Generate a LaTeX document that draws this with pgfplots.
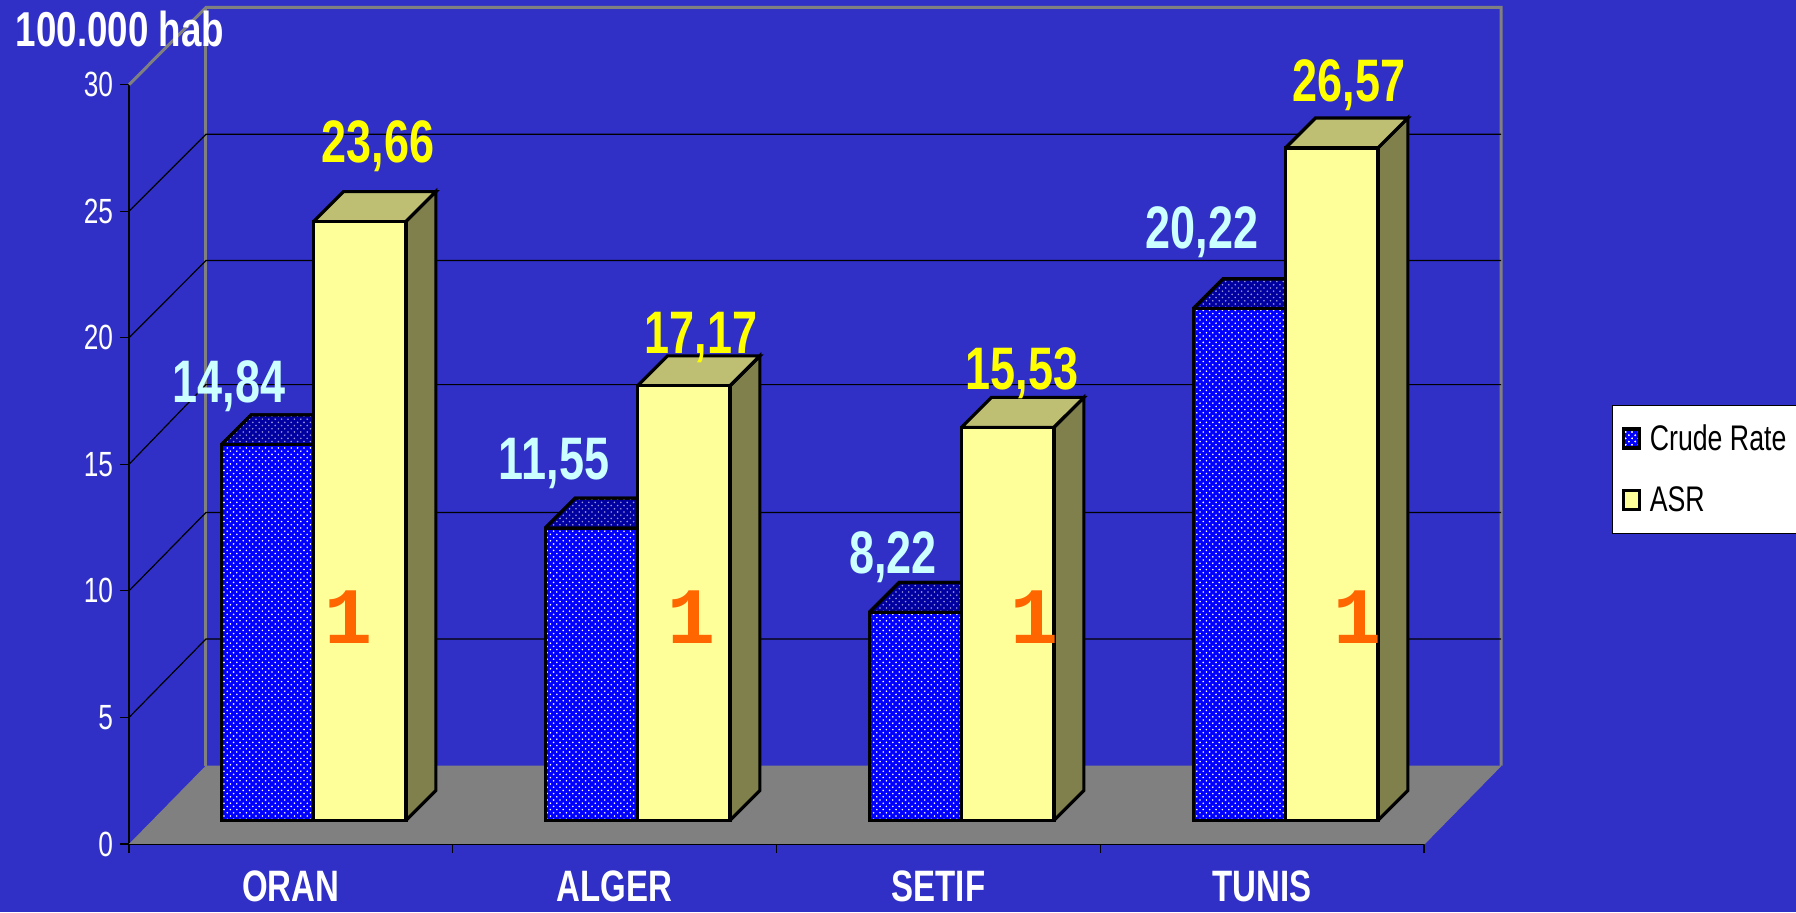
\documentclass[border=0pt]{standalone}
\usepackage{fontspec}
\usepackage{pgfplots}
\pgfplotsset{compat=1.18}
\usetikzlibrary{patterns}
\setmainfont[FakeStretch=0.75]{Liberation Sans}
\newfontfamily\onefont{Liberation Mono}

\definecolor{bg}{HTML}{3030C6}
\definecolor{wall}{HTML}{808080}
\definecolor{crude}{HTML}{0000FF}
\definecolor{crudetop}{HTML}{0000A0}
\definecolor{asr}{HTML}{FFFF99}
\definecolor{asrtop}{HTML}{BFBF73}
\definecolor{asrside}{HTML}{80804C}
\definecolor{crudelab}{HTML}{CCFFFF}
\definecolor{asrlab}{HTML}{FFFF00}
\definecolor{one}{HTML}{FF6600}

% dots on the blue bars
\pgfdeclarepatternformonly{bardots}{\pgfqpoint{-0.6bp}{-0.6bp}}{\pgfqpoint{3.8bp}{3.8bp}}{\pgfqpoint{3.2bp}{3.2bp}}{
  \pgfpathcircle{\pgfqpoint{0bp}{0bp}}{0.45bp}
  \pgfpathcircle{\pgfqpoint{1.6bp}{1.6bp}}{0.45bp}
  \pgfusepath{fill}
}

% depth of a bar in the units of the bar axis
\def\dx{0.0926}
\def\dy{1.185}

% top face: left x, right x, value, colour
\newcommand{\topface}[4]{
  \pgfmathsetmacro{\xa}{#1+\dx}
  \pgfmathsetmacro{\xb}{#2+\dx}
  \pgfmathsetmacro{\yb}{#3+\dy}
  \addplot[forget plot, draw=black, line width=1.6bp, fill=#4, #4 pat] coordinates {(#1,#3) (#2,#3) (\xb,\yb) (\xa,\yb) (#1,#3)};
}
% side face: right x, value
\newcommand{\sideface}[2]{
  \pgfmathsetmacro{\xb}{#1+\dx}
  \pgfmathsetmacro{\yb}{#2+\dy}
  \addplot[forget plot, draw=black, line width=1.6bp, fill=asrside] coordinates {(#1,0) (\xb,\dy) (\xb,\yb) (#1,#2) (#1,0)};
}
\tikzset{
  crudetop pat/.style={postaction={pattern=bardots, pattern color=white!60!crudetop}},
  asrtop pat/.style={},
  vlab/.style={anchor=base, font=\fontsize{30bp}{30bp}\selectfont\bfseries},
  one/.style={anchor=base, text=one, font=\fontsize{40bp}{40bp}\onefont\bfseries},
}

\begin{document}
\begin{tikzpicture}[x=0.5bp,y=0.5bp]
\fill[bg] (0,0) rectangle (1796,912);
\path[use as bounding box] (0,0) rectangle (1796,912);

% walls, floor, grid and axes
\begin{axis}[
  at={(64.5bp,34bp)}, anchor=south west,
  scale only axis, width=647.5bp, height=379.65bp,
  xmin=0, xmax=4, ymin=0, ymax=30,
  clip=false,
  axis x line=bottom, axis y line=left,
  axis line style={-, black, line width=0.6bp},
  major tick length=4.5bp,
  xtick align=outside, ytick align=outside,
  xtick={0,1,2,3,4},
  xticklabels={},
  ytick={0,5,...,30},
  extra x ticks={0.5,1.5,2.5,3.5},
  extra x tick labels={ORAN,ALGER,SETIF,TUNIS},
  extra x tick style={major tick length=0pt},
  every tick/.style={black, line width=0.6bp},
  tick label style={text=white},
  y tick label style={font=\fontsize{17.5bp}{17.5bp}\selectfont},
  x tick label style={font=\fontsize{22bp}{22bp}\selectfont\bfseries, yshift=-10bp, anchor=north, text depth=0pt},
  /pgf/number format/assume math mode=true,
]
\addplot[draw=none, fill=wall] coordinates {(0,0) (4,0) (4.2377,3.1) (0.2377,3.1) (0,0)};
\addplot[wall, line width=1.5bp] coordinates {(0,30) (0.2377,33.05) (4.2377,33.05) (4.2377,3.1)};
\addplot[wall, line width=1.5bp] coordinates {(0.2377,3.1) (0.2377,33.05)};
\addplot[wall, line width=0.6bp] coordinates {(4,0) (4.2377,3.1)};
\addplot[black, line width=0.6bp] coordinates {(0,5) (0.2377,8.1) (4.2377,8.1)};
\addplot[black, line width=0.6bp] coordinates {(0,10) (0.2377,13.1) (4.2377,13.1)};
\addplot[black, line width=0.6bp] coordinates {(0,15) (0.2377,18.15) (4.2377,18.15)};
\addplot[black, line width=0.6bp] coordinates {(0,20) (0.2377,23.05) (4.2377,23.05)};
\addplot[black, line width=0.6bp] coordinates {(0,25) (0.2377,28.04) (4.2377,28.04)};
\end{axis}

% the bars
\begin{axis}[
  at={(64.5bp,34bp)}, anchor=south west,
  scale only axis, width=647.5bp, height=379.65bp,
  xmin=-0.5695, xmax=3.4275, ymin=-0.93, ymax=29.07,
  clip=false,
  hide axis,
  legend style={
    at={(1.1452,0.578)}, anchor=north west,
    fill=white, draw=black, line width=0.6bp,
    font=\fontsize{17.8bp}{17.8bp}\selectfont,
    inner xsep=4.5bp, inner ysep=7.5bp,
    row sep=12.5bp,
    /tikz/every odd column/.append style={column sep=2.5bp},
  },
  legend cell align=left,
]
\topface{-0.285}{0}{14.84}{crudetop}
\topface{0.715}{1}{11.55}{crudetop}
\topface{1.715}{2}{8.22}{crudetop}
\topface{2.715}{3}{20.22}{crudetop}
\addplot[ybar, bar width=46.2bp, bar shift=-23.1bp, draw=black, line width=1.6bp, fill=crude,
  postaction={pattern=bardots, pattern color=white},
  legend image code/.code={
    \draw[draw=black, line width=1.6bp, fill=crude, postaction={pattern=bardots, pattern color=white}] (0bp,-4.5bp) rectangle (8bp,5bp);
  }] coordinates {(0,14.84) (1,11.55) (2,8.22) (3,20.22)};
\addlegendentry{Crude Rate}
\sideface{0.285}{23.66}
\sideface{1.285}{17.17}
\sideface{2.285}{15.53}
\sideface{3.285}{26.57}
\topface{0}{0.285}{23.66}{asrtop}
\topface{1}{1.285}{17.17}{asrtop}
\topface{2}{2.285}{15.53}{asrtop}
\topface{3}{3.285}{26.57}{asrtop}
\addplot[ybar, bar width=46.2bp, bar shift=23.1bp, draw=black, line width=1.6bp, fill=asr,
  legend image code/.code={
    \draw[draw=black, line width=1.6bp, fill=asr] (0bp,-4.5bp) rectangle (8bp,5bp);
  }] coordinates {(0,23.66) (1,17.17) (2,15.53) (3,26.57)};
\addlegendentry{ASR}
\end{axis}

% hand placed value labels, page position in reference pixels
\node[vlab, text=crudelab] at (229,509) {14,84};
\node[vlab, text=asrlab]   at (378,749) {23,66};
\node[vlab, text=crudelab] at (554,432) {11,55};
\node[vlab, text=asrlab]   at (701,558) {17,17};
\node[vlab, text=crudelab] at (893,338) {8,22};
\node[vlab, text=asrlab]   at (1022,522) {15,53};
\node[vlab, text=crudelab] at (1202,663) {20,22};
\node[vlab, text=asrlab]   at (1349,810) {26,57};
\node[one] at (349,268) {1};
\node[one] at (691,268) {1};
\node[one] at (1034,268) {1};
\node[one] at (1357,268) {1};
\node[anchor=base, text=white, font=\fontsize{24.5bp}{24.5bp}\selectfont\bfseries] at (120,865) {100.000 hab};
\end{tikzpicture}
\end{document}
